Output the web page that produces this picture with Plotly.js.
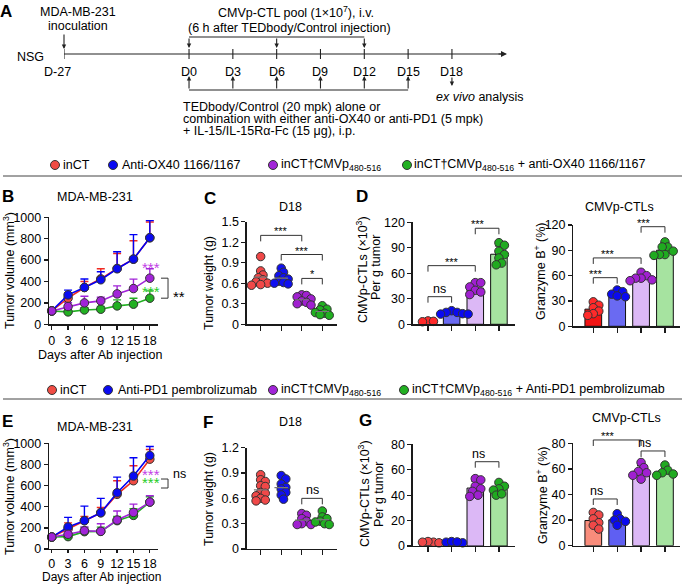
<!DOCTYPE html>
<html><head><meta charset="utf-8">
<script src="https://cdn.plot.ly/plotly-3.0.1.min.js"></script>
<style>html,body{margin:0;padding:0;background:#fff}#chart{width:685px;height:584px}</style>
</head><body><div id="chart"></div>
<script>
// ================= DATA =================
// Panel A timeline (days)
const tlDays = [0, 3, 6, 9, 12, 15, 18];
const tlInoculationDay = -27;
const tlCTLDays = [0, 6, 12];
const tlTEDDays = [0, 3, 6, 9, 12, 15];
const tlAnalysisDay = 18;

// Legends
const legendOX = ['inCT', 'Anti-OX40 1166/1167', 'inCT†CMVp<sub>480-516</sub>', 'inCT†CMVp<sub>480-516</sub> + anti-OX40 1166/1167'];
const legendPD = ['inCT', 'Anti-PD1 pembrolizumab', 'inCT†CMVp<sub>480-516</sub>', 'inCT†CMVp<sub>480-516</sub> + Anti-PD1 pembrolizumab'];

// Panel B: tumor volume (mm3), mean and upper error
const days = [0, 3, 6, 9, 12, 15, 18];
const B_inCT = [125, 244, 344, 425, 522, 609, 809];
const B_inCT_err = [0, 50, 56, 94, 140, 172, 147];
const B_ox40 = [125, 275, 344, 416, 519, 609, 809];
const B_ox40_err = [0, 44, 80, 75, 159, 229, 160];
const B_cmv = [125, 166, 200, 219, 284, 334, 431];
const B_cmv_err = [0, 35, 62, 34, 75, 88, 88];
const B_combo = [125, 116, 134, 141, 172, 188, 244];
const B_combo_err = [0, 15, 20, 25, 56, 56, 68];

// Panel C: tumor weight (g) at D18
const C_inCT = [0.99, 0.78, 0.72, 0.68, 0.65, 0.62, 0.60, 0.58, 0.57];
const C_ox40 = [0.82, 0.76, 0.71, 0.68, 0.66, 0.63, 0.61, 0.60, 0.59];
const C_cmv = [0.43, 0.42, 0.40, 0.37, 0.34, 0.32, 0.30, 0.28];
const C_combo = [0.27, 0.22, 0.21, 0.17, 0.16, 0.14, 0.13];

// Panel D: CMVp-CTLs (x10^3) per g tumor ; Granzyme B+ (%)
const D1_inCT = [4, 3.5, 3];
const D1_ox40 = [16, 14, 14, 12.5, 12, 12];
const D1_cmv = [49, 49, 44, 40, 38, 35];
const D1_combo = [96, 93, 86, 82, 78, 72, 70];
const D2_inCT = [29, 25, 22, 18, 15, 13];
const D2_ox40 = [43, 41, 38, 36, 35];
const D2_cmv = [64, 60, 57, 57, 55, 54];
const D2_combo = [100, 94, 94, 89, 85, 85, 84];

// Panel E: tumor volume (mm3)
const E_inCT = [113, 189, 268, 343, 517, 646, 850];
const E_inCT_err = [0, 58, 40, 50, 129, 141, 92];
const E_pd1 = [113, 208, 268, 343, 532, 690, 885];
const E_pd1_err = [0, 91, 138, 136, 148, 173, 85];
const E_cmv = [113, 139, 173, 167, 274, 346, 444];
const E_cmv_err = [0, 30, 35, 72, 85, 79, 60];
const E_combo = [113, 117, 164, 167, 268, 318, 444];
const E_combo_err = [0, 20, 40, 40, 40, 63, 50];

// Panel F: tumor weight (g)
const F_inCT = [0.88, 0.82, 0.80, 0.75, 0.74, 0.67, 0.66, 0.63, 0.60, 0.58, 0.57];
const F_pd1 = [0.87, 0.83, 0.77, 0.73, 0.71, 0.67, 0.64, 0.59];
const F_cmv = [0.42, 0.40, 0.36, 0.33, 0.30, 0.29, 0.29];
const F_combo = [0.45, 0.38, 0.36, 0.33, 0.32, 0.30, 0.29];

// Panel G
const G1_inCT = [3, 3.5, 2.5, 3];
const G1_pd1 = [3, 3.5, 2.5, 3.2];
const G1_cmv = [53, 52, 47, 45, 43, 40, 39];
const G1_combo = [50, 47, 45, 44, 40, 41];
const G2_inCT = [26, 24, 21, 18, 16, 13];
const G2_pd1 = [25, 21, 20, 19, 16];
const G2_cmv = [65, 61, 58, 57, 55, 52];
const G2_combo = [63, 59, 57, 56, 55];

// Significance brackets [from, to, level, label]
const C_sig = [[1, 3, 1.30, '***'], [2, 4, 1.02, '***'], [3, 4, 0.67, '*']];
const D1_sig = [[3, 4, 113, '***'], [1, 3, 69, '***'], [1, 2, 32.5, 'ns']];
const D2_sig = [[3, 4, 118, '***'], [1, 3, 81, '***'], [1, 2, 57.6, '***']];
const F_sig = [[3, 4, 0.60, 'ns']];
const G1_sig = [[3, 4, 66.3, 'ns']];
const G2_sig = [[1, 3, 82.6, '***'], [3, 4, 74, 'ns'], [1, 2, 36.5, 'ns']];

// ================= STYLE / HELPERS =================
const W = 685, H = 584;
const FS = 12.5;
const px = x => x / W, py = y => 1 - y / H;
const dx = (a, b) => [a / W, b / W];
const dy = (t, b) => [1 - b / H, 1 - t / H];
const AX = '#1a1a1a';
const lineCols = ['#f02a22', '#0000f5', '#a124d8', '#22b022'];
const mkCols = ['#f04c44', '#0a0af2', '#a124d8', '#22b022'];
const legCols = ['#f04c44', '#0a0af2', '#a124d8', '#22b022'];

// axis geometry (domain in paper, range in data)
const AXES = {
  x:  { d: dx(49, 158), r: [-0.5, 19.5] },      y:  { d: dy(217.3, 324.3), r: [0, 1000] },
  x2: { d: dx(246.7, 336.7), r: [0.32, 4.70] }, y2: { d: dy(221.7, 324.2), r: [0, 1.5] },
  x3: { d: dx(412.7, 515), r: [0.354, 4.68] },  y3: { d: dy(222.3, 324.3), r: [0, 120] },
  x4: { d: dx(573.3, 680), r: [0.163, 4.63] },  y4: { d: dy(225, 326.3), r: [0, 120] },
  x5: { d: dx(49, 158), r: [-0.5, 19.5] },      y5: { d: dy(443.3, 549), r: [0, 1000] },
  x6: { d: dx(246.7, 336.7), r: [0.32, 4.70] }, y6: { d: dy(447.7, 549), r: [0, 1.2] },
  x7: { d: dx(412.7, 515), r: [0.354, 4.68] },  y7: { d: dy(444.3, 546), r: [0, 80] },
  x8: { d: dx(573.3, 680), r: [0.163, 4.63] },  y8: { d: dy(443.3, 545.7), r: [0, 80] }
};
function toP(ax, v) { const a = AXES[ax]; return a.d[0] + (v - a.r[0]) / (a.r[1] - a.r[0]) * (a.d[1] - a.d[0]); }
function pxPerUnit(ax) { const a = AXES[ax]; const span = ax[0] === 'x' ? W : H; return (a.d[1] - a.d[0]) * span / (a.r[1] - a.r[0]); }

function mean(a) { return a.reduce((s, v) => s + v, 0) / a.length; }
function sd(a) { const m = mean(a); return Math.sqrt(a.reduce((s, v) => s + (v - m) * (v - m), 0) / (a.length - 1)); }

function swarm(vals, cat, pxX, pxY, minD) {
  const idx = vals.map((v, i) => i).sort((a, b) => vals[b] - vals[a] || a - b);
  const placed = []; const xs = new Array(vals.length);
  for (const i of idx) {
    const yp = vals[i] * pxY;
    let off = 0;
    for (let k = 0; k < 60; k++) {
      const cand = k === 0 ? 0 : (k % 2 ? 1 : -1) * Math.ceil(k / 2) * minD * 0.5;
      if (placed.every(p => Math.hypot(p.x - cand, p.y - yp) >= minD)) { off = cand; break; }
    }
    placed.push({ x: off, y: yp }); xs[i] = cat + off / pxX;
  }
  return xs;
}

const baseAxis = {
  showline: true, linecolor: AX, linewidth: 1.3, ticks: 'outside', ticklen: 4, tickwidth: 1.3,
  tickcolor: AX, showgrid: false, zeroline: false, fixedrange: true,
  tickfont: { size: FS, color: '#000' }
};
function xAx(id, anchor, tickvals, labels) {
  return Object.assign({}, baseAxis, { domain: AXES[id].d, range: AXES[id].r, anchor, tickmode: 'array', tickvals,
    showticklabels: !!labels, ticklen: labels ? 4 : 5 });
}
function yAx(id, anchor, dtick) {
  return Object.assign({}, baseAxis, { domain: AXES[id].d, range: AXES[id].r, anchor, tick0: 0, dtick });
}

const traces = [];
const shapes = [];
const annotations = [];

function ann(text, x, y, o) {
  return Object.assign({ text, x: px(x), y: py(y), xref: 'paper', yref: 'paper', showarrow: false,
    xanchor: 'center', yanchor: 'middle', font: { size: FS, color: '#000' } }, o || {});
}

// ---- line charts ----
function lineTrace(y, err, i, xa, ya) {
  return { type: 'scatter', mode: 'lines+markers', x: days, y, xaxis: xa, yaxis: ya,
    line: { color: lineCols[i], width: 1.6 },
    marker: { size: 8.5, color: mkCols[i], line: { color: '#333', width: 1 } },
    error_y: { type: 'data', array: err, arrayminus: err.map(() => 0), symmetric: false,
      color: lineCols[i], thickness: 1.4, width: 4 },
    cliponaxis: false, showlegend: false, hoverinfo: 'skip' };
}
[[B_inCT, B_inCT_err, 0], [B_ox40, B_ox40_err, 1], [B_combo, B_combo_err, 3], [B_cmv, B_cmv_err, 2]]
  .forEach(([y, e, i]) => traces.push(lineTrace(y, e, i, 'x', 'y')));
[[E_inCT, E_inCT_err, 0], [E_pd1, E_pd1_err, 1], [E_combo, E_combo_err, 3], [E_cmv, E_cmv_err, 2]]
  .forEach(([y, e, i]) => traces.push(lineTrace(y, e, i, 'x5', 'y5')));

// ---- dot plots ----
const dotCols = ['#f04848', '#1010f0', '#a020d0', '#20b020'];
function dotPlot(groups, xa, ya) {
  const pxX = pxPerUnit(xa), pxY = pxPerUnit(ya);
  groups.forEach((g, i) => {
    traces.push({ type: 'scatter', mode: 'markers', x: swarm(g, i + 1, pxX, pxY, 4.6), y: g, xaxis: xa, yaxis: ya,
      marker: { size: 8.5, color: dotCols[i], line: { color: '#333', width: 1 } },
      cliponaxis: false, showlegend: false, hoverinfo: 'skip' });
  });
  groups.forEach((g, i) => {
    const m = mean(g);
    traces.push({ type: 'scatter', mode: 'lines', x: [i + 1 - 0.33, i + 1 + 0.33], y: [m, m],
      xaxis: xa, yaxis: ya, line: { color: '#777', width: 1.2 }, showlegend: false, hoverinfo: 'skip' });
  });
}
dotPlot([C_inCT, C_ox40, C_cmv, C_combo], 'x2', 'y2');
dotPlot([F_inCT, F_pd1, F_cmv, F_combo], 'x6', 'y6');

// ---- bar + points ----
function barPlot(groups, barCols, ptCols, xa, ya) {
  const pxX = pxPerUnit(xa), pxY = pxPerUnit(ya);
  traces.push({ type: 'bar', x: [1, 2, 3, 4], y: groups.map(mean), width: 0.7, xaxis: xa, yaxis: ya,
    marker: { color: barCols, line: { color: '#111', width: 1 } },
    error_y: { type: 'data', array: groups.map(sd), arrayminus: groups.map(() => 0), symmetric: false,
      color: '#111', thickness: 1.2, width: 4 },
    showlegend: false, hoverinfo: 'skip' });
  groups.forEach((g, i) => {
    traces.push({ type: 'scatter', mode: 'markers', x: swarm(g, i + 1, pxX, pxY, 5.5), y: g, xaxis: xa, yaxis: ya,
      marker: { size: 8.5, color: ptCols[i], line: { color: '#333', width: 1 } },
      cliponaxis: false, showlegend: false, hoverinfo: 'skip' });
  });
}
const barD = ['#f21414', '#6a6af2', '#dcb8f6', '#a6e3a0'];
const barG = ['#f98c7b', '#5f5ff2', '#dcb8f6', '#a6e3a0'];
const ptD = ['#ff2a2a', '#0a0af0', '#a020d0', '#20aa20'];
const ptG = ['#f04848', '#0a0af0', '#a020d0', '#20aa20'];
barPlot([D1_inCT, D1_ox40, D1_cmv, D1_combo], barD, ptD, 'x3', 'y3');
barPlot([D2_inCT, D2_ox40, D2_cmv, D2_combo], barD, ptD, 'x4', 'y4');
barPlot([G1_inCT, G1_pd1, G1_cmv, G1_combo], barG, ptG, 'x7', 'y7');
barPlot([G2_inCT, G2_pd1, G2_cmv, G2_combo], barG, ptG, 'x8', 'y8');

// ---- significance brackets (drawn in paper space via the axis scales so they are never clipped) ----
function bracketPath(xa, ya, x0, x1, y, yDrop0, yDrop1) {
  const X0 = toP(xa, x0), X1 = toP(xa, x1), Y = toP(ya, y);
  return `M${X0},${toP(ya, yDrop0)} L${X0},${Y} L${X1},${Y} L${X1},${toP(ya, yDrop1)}`;
}
function addSig(list, xa, ya) {
  const drop = 6 / pxPerUnit(ya);
  list.forEach(([a, b, y, lab]) => {
    shapes.push({ type: 'path', xref: 'paper', yref: 'paper', path: bracketPath(xa, ya, a, b, y, y - drop, y - drop),
      line: { color: '#333', width: 1 } });
    const star = lab.includes('*');
    annotations.push({ xref: 'paper', yref: 'paper', x: toP(xa, (a + b) / 2), y: toP(ya, y), text: lab, showarrow: false,
      yanchor: 'bottom', yshift: star ? -4 : -1, font: { size: star ? 11 : FS, color: '#000' } });
  });
}
addSig(C_sig, 'x2', 'y2');
addSig(D1_sig, 'x3', 'y3');
addSig(D2_sig, 'x4', 'y4');
addSig(F_sig, 'x6', 'y6');
addSig(G1_sig, 'x7', 'y7');
addSig(G2_sig, 'x8', 'y8');

// B / E side marks
function sideMark(xa, ya, day, val, text, color, size, anchor) {
  annotations.push({ xref: 'paper', yref: 'paper', x: toP(xa, day), y: toP(ya, val), text, showarrow: false,
    xanchor: anchor || 'center', font: { size, color } });
}
sideMark('x', 'y', 18.2, 535, '***', '#c23ee6', 15);
sideMark('x', 'y', 18.2, 311, '***', '#26cc26', 15);
shapes.push({ type: 'path', xref: 'paper', yref: 'paper', line: { color: '#333', width: 1 },
  path: (() => { const X0 = toP('x', 20.05), X1 = toP('x', 21.34), T = toP('y', B_cmv[6]), Bt = toP('y', B_combo[6]);
    return `M${X0},${T} L${X1},${T} L${X1},${Bt} L${X0},${Bt}`; })() });
sideMark('x', 'y', 21.8, 262, '**', '#000', 15, 'left');

const E_brTop = 662, E_brBot = 577;
sideMark('x5', 'y5', 18.2, 604, '***', '#c23ee6', 15);
sideMark('x5', 'y5', 18.2, 526, '***', '#26cc26', 15);
shapes.push({ type: 'path', xref: 'paper', yref: 'paper', line: { color: '#333', width: 1 },
  path: (() => { const X0 = toP('x5', 20.05), X1 = toP('x5', 21.34), T = toP('y5', E_brTop), Bt = toP('y5', E_brBot);
    return `M${X0},${T} L${X1},${T} L${X1},${Bt} L${X0},${Bt}`; })() });
sideMark('x5', 'y5', 21.8, 624, 'ns', '#000', FS, 'left');

// ---- Panel A timeline ----
const TL_START = -8.56, TL_END = 21.77;
const tlX = d => d < 0 ? TL_START : d;
const tlY = 54;
shapes.push({ type: 'line', xref: 'x9', yref: 'paper', x0: TL_START, x1: TL_END - 0.3, y0: py(tlY), y1: py(tlY), line: { color: '#222', width: 1.2 } });
annotations.push({ xref: 'x9', yref: 'paper', x: TL_END, y: py(tlY), ax: -10, ay: 0, text: '', showarrow: true,
  arrowhead: 2, arrowsize: 1, arrowwidth: 1.2, arrowcolor: '#222', standoff: 0 });
[tlInoculationDay].concat(tlDays).forEach(d => {
  shapes.push({ type: 'line', xref: 'x9', yref: 'paper', x0: tlX(d), x1: tlX(d), y0: py(tlY - 5), y1: py(tlY + 5), line: { color: '#222', width: 1.1 } });
});
annotations.push(Object.assign(ann('D' + tlInoculationDay, 0, 72), { xref: 'x9', x: tlX(tlInoculationDay), xshift: -6 }));
tlDays.forEach(d => annotations.push(Object.assign(ann('D' + d, 0, 72), { xref: 'x9', x: d })));
function arrow(d, yHead, tail) {
  annotations.push({ xref: 'x9', yref: 'paper', x: tlX(d), y: py(yHead), ax: 0, ay: tail, text: '', showarrow: true,
    arrowhead: 2, arrowsize: 0.8, arrowwidth: 1.1, arrowcolor: '#222', standoff: 0 });
}
arrow(tlInoculationDay, 49, -16);
tlCTLDays.forEach(d => arrow(d, 48, -11));
shapes.push({ type: 'line', xref: 'x9', yref: 'paper', x0: tlCTLDays[0], x1: tlCTLDays[tlCTLDays.length - 1], y0: py(37), y1: py(37), line: { color: '#222', width: 1.1 } });
tlTEDDays.forEach(d => arrow(d, 76, 14));
shapes.push({ type: 'line', xref: 'x9', yref: 'paper', x0: tlTEDDays[0], x1: tlTEDDays[tlTEDDays.length - 1], y0: py(90), y1: py(90), line: { color: '#222', width: 1.1 } });
arrow(tlAnalysisDay, 86, -10);

annotations.push(ann('NSG', 30, 57));
annotations.push(ann('MDA-MB-231', 78, 12));
annotations.push(ann('inoculation', 78, 26));
annotations.push(ann('CMVp-CTL pool (1×10<sup>7</sup>), i.v.', 296, 12));
annotations.push(ann('(6 h after TEDbody/Control injection)', 289, 28));
annotations.push(ann('TEDbody/Control (20 mpk) alone or', 181, 107, { xanchor: 'left' }));
annotations.push(ann('combination with either anti-OX40 or anti-PD1 (5 mpk)', 181, 119, { xanchor: 'left' }));
annotations.push(ann('+ IL-15/IL-15Rα-Fc (15 μg), i.p.', 181, 131, { xanchor: 'left' }));
annotations.push(ann('<i>ex vivo</i> analysis', 480, 97));

// ---- legends ----
function legendRow(labels, circX, textX, y, lineY) {
  labels.forEach((l, i) => {
    shapes.push({ type: 'circle', xref: 'paper', yref: 'paper', x0: px(circX[i] - 4.5), x1: px(circX[i] + 4.5),
      y0: py(y + 4.5), y1: py(y - 4.5), fillcolor: legCols[i], line: { color: '#333', width: 1 } });
    annotations.push(ann(l, textX[i], y, { xanchor: 'left' }));
  });
  shapes.push({ type: 'line', xref: 'paper', yref: 'paper', x0: px(3), x1: px(682), y0: py(lineY), y1: py(lineY), line: { color: '#444', width: 1 } });
}
legendRow(legendOX, [55, 113, 273, 407], [61, 120, 279, 412], 165, 176);
legendRow(legendPD, [52, 108, 273, 404], [58, 116, 279, 410], 390, 399);

// ---- panel letters / titles / axis titles ----
const bold = { size: 17, color: '#000', family: 'Liberation Sans, Arial, sans-serif', weight: 'bold' };
[['A', 6, 12], ['B', 8, 196], ['C', 210, 198], ['D', 362, 197], ['E', 8, 421], ['F', 208, 422], ['G', 365, 420]]
  .forEach(([t, x, y]) => annotations.push(ann('<b>' + t + '</b>', x, y, { font: bold })));
annotations.push(ann('MDA-MB-231', 95, 197));
annotations.push(ann('MDA-MB-231', 95, 427));
annotations.push(ann('D18', 290, 207));
annotations.push(ann('D18', 290, 422));
annotations.push(ann('CMVp-CTLs', 619, 207));
annotations.push(ann('CMVp-CTLs', 626, 418));
annotations.push(ann('Days after Ab injection', 100, 355));
annotations.push(ann('Days after Ab injection', 101, 576.5, { font: { size: 12, color: '#000' } }));
const rot = { textangle: -90 };
annotations.push(ann('Tumor volume (mm<sup>3</sup>)', 9, 271, rot));
annotations.push(ann('Tumor volume (mm<sup>3</sup>)', 9, 497, rot));
annotations.push(ann('Tumor weight (g)', 209, 283, rot));
annotations.push(ann('Tumor weight (g)', 209, 499, rot));
annotations.push(ann('CMVp-CTLs (×10<sup>3</sup>)', 362, 270, rot));
annotations.push(ann('Per g tumor', 376, 268, rot));
annotations.push(ann('Granzyme B<sup>+</sup> (%)', 540, 271, rot));
annotations.push(ann('CMVp-CTLs (×10<sup>3</sup>)', 364, 494, rot));
annotations.push(ann('Per g tumor', 379, 494, rot));
annotations.push(ann('Granzyme B<sup>+</sup> (%)', 542, 495, rot));

// ================= LAYOUT =================
const layout = {
  width: W, height: H, margin: { l: 0, r: 0, t: 0, b: 0 },
  paper_bgcolor: '#fff', plot_bgcolor: 'rgba(0,0,0,0)', showlegend: false,
  font: { family: 'Liberation Sans, Arial, Helvetica, sans-serif', size: FS, color: '#000' },
  xaxis: xAx('x', 'y', days, true),
  yaxis: yAx('y', 'x', 200),
  xaxis2: xAx('x2', 'y2', [1, 2, 3, 4], false),
  yaxis2: Object.assign(yAx('y2', 'x2', 0.3), { tickmode: 'array', tickvals: [0, 0.3, 0.6, 0.9, 1.2, 1.5], ticktext: ['0', '0.3', '0.6', '0.9', '1.2', '1.5'] }),
  xaxis3: xAx('x3', 'y3', [1, 2, 3, 4], false),
  yaxis3: yAx('y3', 'x3', 30),
  xaxis4: xAx('x4', 'y4', [1, 2, 3, 4], false),
  yaxis4: yAx('y4', 'x4', 30),
  xaxis5: Object.assign(xAx('x5', 'y5', days, true), { ticklen: 3 }),
  yaxis5: yAx('y5', 'x5', 200),
  xaxis6: xAx('x6', 'y6', [1, 2, 3, 4], false),
  yaxis6: Object.assign(yAx('y6', 'x6', 0.3), { tickmode: 'array', tickvals: [0, 0.3, 0.6, 0.9, 1.2], ticktext: ['0', '0.3', '0.6', '0.9', '1.2'] }),
  xaxis7: xAx('x7', 'y7', [1, 2, 3, 4], false),
  yaxis7: yAx('y7', 'x7', 20),
  xaxis8: xAx('x8', 'y8', [1, 2, 3, 4], false),
  yaxis8: yAx('y8', 'x8', 20),
  xaxis9: { domain: dx(64, 507), range: [TL_START, TL_END], visible: false, anchor: 'y9', fixedrange: true },
  yaxis9: { domain: [0.78, 1], range: [0, 1], visible: false, anchor: 'x9', fixedrange: true },
  shapes, annotations
};

Plotly.newPlot('chart', traces, layout, { displayModeBar: false, staticPlot: true });
</script>
</body></html>
